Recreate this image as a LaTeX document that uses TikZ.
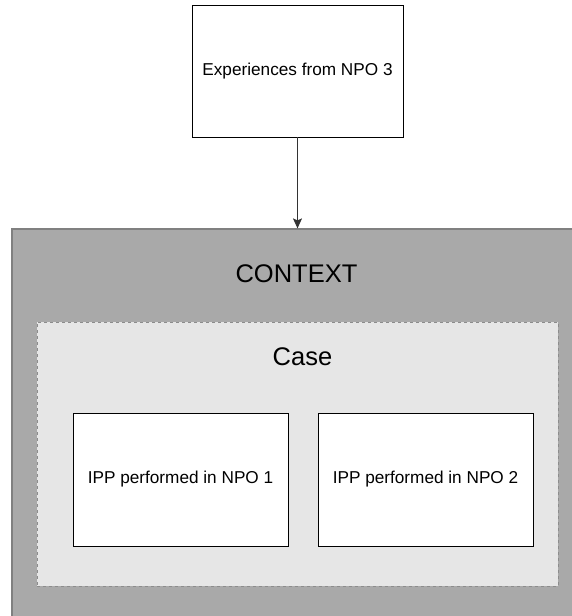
\documentclass[tikz,border=0pt]{standalone}
\usepackage{fontspec}
\setmainfont{Liberation Sans}
\usetikzlibrary{shapes,arrows.meta,positioning,calc}

\definecolor{ctxfill}{HTML}{A9A9A9}
\definecolor{ctxline}{HTML}{808080}
\definecolor{casefill}{HTML}{E6E6E6}
\definecolor{caseline}{HTML}{8C8C8C}

\tikzset{
    plainbox/.style={draw=black, fill=white, line width=0.9pt, inner sep=0pt,
        minimum width=#1, minimum height=133pt, font=\fontsize{17.2}{20}\selectfont},
    bigtitle/.style={font=\fontsize{25.5}{30}\selectfont, inner sep=0pt}
}

\begin{document}
\begin{tikzpicture}[x=1pt, y=-1pt]
    \useasboundingbox (0,0) rectangle (571,616);

    % Context block (runs off the page on the right and bottom)
    \node[draw=ctxline, fill=ctxfill, line width=1.2pt, minimum width=568pt, minimum height=401pt, inner sep=0pt] (context) at (296,429.5) {};
    \node[bigtitle] (ctxtitle) at (296.5,274) {CONTEXT};

    % Case block
    \node[draw=caseline, fill=casefill, dashed, line width=0.9pt, minimum width=521pt, minimum height=264pt, inner sep=0pt] (case) at (297.5,454) {};
    \node[bigtitle] (casetitle) at (302.5,357) {Case};

    % The two IPPs
    \node[plainbox=215pt] (npo1) at (180.5,479.5) {IPP performed in NPO 1};
    \node[plainbox=215pt] (npo2) at (425.5,479.5) {IPP performed in NPO 2};

    % Experiences
    \node[plainbox=211pt, minimum height=132pt] (npo3) at (297.5,71) {Experiences from NPO 3};

    % Arrow
    \draw[-{Stealth[length=10pt, width=9pt, inset=2pt]}, line width=0.9pt, black!80] (npo3.south) -- (npo3.south |- context.north);
\end{tikzpicture}
\end{document}
